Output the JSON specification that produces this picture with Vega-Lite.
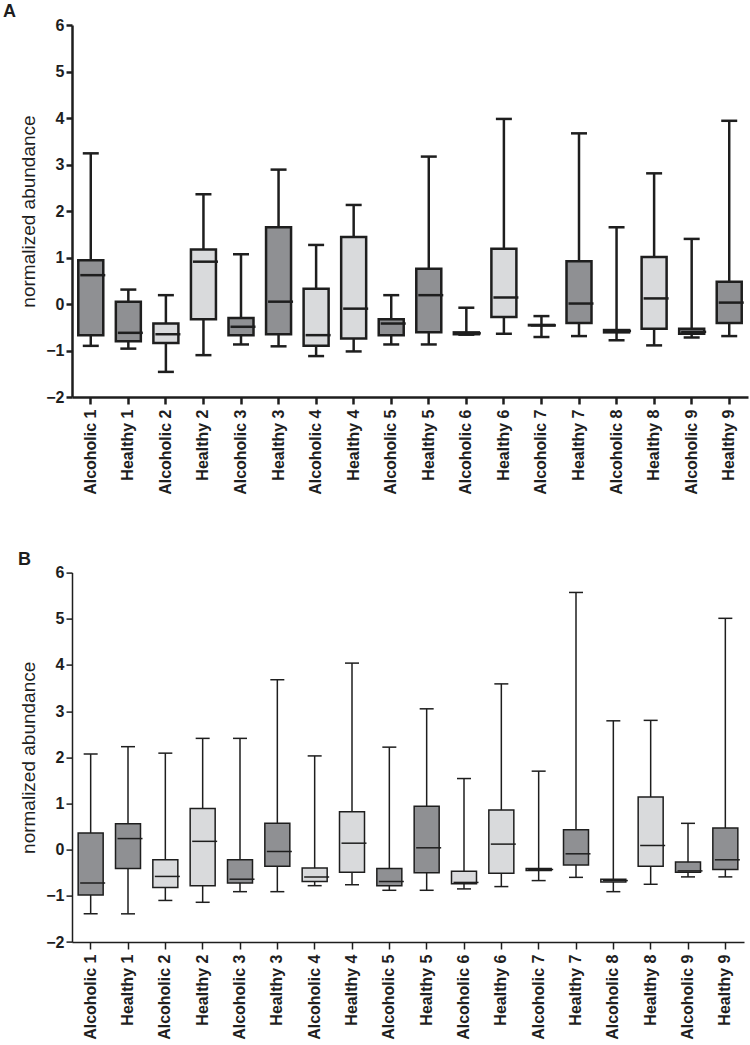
{
  "$schema": "https://vega.github.io/schema/vega-lite/v6.json",
  "padding": {"left": 3, "top": 3, "right": 2, "bottom": 0},
  "background": "white",
  "bounds": "flush",
  "spacing": 175.6,
  "config": {"view": {"stroke": null}, "font": "Liberation Sans"},
  "datasets": {
    "A": [
      {"group": "Alcoholic 1", "tone": "dark", "lo": -0.9, "q1": -0.67, "med": 0.62, "q3": 0.94, "hi": 3.24},
      {"group": "Healthy 1", "tone": "dark", "lo": -0.96, "q1": -0.8, "med": -0.62, "q3": 0.05, "hi": 0.31},
      {"group": "Alcoholic 2", "tone": "light", "lo": -1.46, "q1": -0.84, "med": -0.65, "q3": -0.42, "hi": 0.19},
      {"group": "Healthy 2", "tone": "light", "lo": -1.1, "q1": -0.33, "med": 0.91, "q3": 1.17, "hi": 2.36},
      {"group": "Alcoholic 3", "tone": "dark", "lo": -0.87, "q1": -0.67, "med": -0.49, "q3": -0.3, "hi": 1.07},
      {"group": "Healthy 3", "tone": "dark", "lo": -0.91, "q1": -0.65, "med": 0.05, "q3": 1.65, "hi": 2.89},
      {"group": "Alcoholic 4", "tone": "light", "lo": -1.12, "q1": -0.9, "med": -0.67, "q3": 0.33, "hi": 1.27},
      {"group": "Healthy 4", "tone": "light", "lo": -1.02, "q1": -0.74, "med": -0.1, "q3": 1.44, "hi": 2.13},
      {"group": "Alcoholic 5", "tone": "dark", "lo": -0.87, "q1": -0.67, "med": -0.42, "q3": -0.33, "hi": 0.19},
      {"group": "Healthy 5", "tone": "dark", "lo": -0.87, "q1": -0.61, "med": 0.19, "q3": 0.76, "hi": 3.17},
      {"group": "Alcoholic 6", "tone": "light", "lo": -0.66, "q1": -0.65, "med": -0.63, "q3": -0.61, "hi": -0.08},
      {"group": "Healthy 6", "tone": "light", "lo": -0.64, "q1": -0.28, "med": 0.14, "q3": 1.19, "hi": 3.98},
      {"group": "Alcoholic 7", "tone": "dark", "lo": -0.71, "q1": -0.46, "med": -0.46, "q3": -0.45, "hi": -0.26},
      {"group": "Healthy 7", "tone": "dark", "lo": -0.69, "q1": -0.41, "med": 0.01, "q3": 0.92, "hi": 3.67},
      {"group": "Alcoholic 8", "tone": "light", "lo": -0.78, "q1": -0.61, "med": -0.58, "q3": -0.56, "hi": 1.65},
      {"group": "Healthy 8", "tone": "light", "lo": -0.89, "q1": -0.53, "med": 0.12, "q3": 1.01, "hi": 2.81},
      {"group": "Alcoholic 9", "tone": "dark", "lo": -0.72, "q1": -0.64, "med": -0.6, "q3": -0.53, "hi": 1.4},
      {"group": "Healthy 9", "tone": "dark", "lo": -0.69, "q1": -0.41, "med": 0.03, "q3": 0.48, "hi": 3.94}
    ],
    "B": [
      {"group": "Alcoholic 1", "tone": "dark", "lo": -1.39, "q1": -0.98, "med": -0.72, "q3": 0.36, "hi": 2.07},
      {"group": "Healthy 1", "tone": "dark", "lo": -1.39, "q1": -0.41, "med": 0.24, "q3": 0.56, "hi": 2.23},
      {"group": "Alcoholic 2", "tone": "light", "lo": -1.1, "q1": -0.82, "med": -0.58, "q3": -0.22, "hi": 2.09},
      {"group": "Healthy 2", "tone": "light", "lo": -1.14, "q1": -0.78, "med": 0.18, "q3": 0.89, "hi": 2.41},
      {"group": "Alcoholic 3", "tone": "dark", "lo": -0.91, "q1": -0.72, "med": -0.64, "q3": -0.22, "hi": 2.41},
      {"group": "Healthy 3", "tone": "dark", "lo": -0.91, "q1": -0.36, "med": -0.04, "q3": 0.57, "hi": 3.68},
      {"group": "Alcoholic 4", "tone": "light", "lo": -0.78, "q1": -0.69, "med": -0.59, "q3": -0.4, "hi": 2.03},
      {"group": "Healthy 4", "tone": "light", "lo": -0.76, "q1": -0.49, "med": 0.14, "q3": 0.82, "hi": 4.04},
      {"group": "Alcoholic 5", "tone": "dark", "lo": -0.88, "q1": -0.78, "med": -0.69, "q3": -0.41, "hi": 2.22},
      {"group": "Healthy 5", "tone": "dark", "lo": -0.88, "q1": -0.5, "med": 0.04, "q3": 0.94, "hi": 3.05},
      {"group": "Alcoholic 6", "tone": "light", "lo": -0.85, "q1": -0.74, "med": -0.71, "q3": -0.47, "hi": 1.54},
      {"group": "Healthy 6", "tone": "light", "lo": -0.8, "q1": -0.51, "med": 0.12, "q3": 0.86, "hi": 3.59},
      {"group": "Alcoholic 7", "tone": "dark", "lo": -0.67, "q1": -0.45, "med": -0.43, "q3": -0.41, "hi": 1.7},
      {"group": "Healthy 7", "tone": "dark", "lo": -0.6, "q1": -0.33, "med": -0.09, "q3": 0.43, "hi": 5.57},
      {"group": "Alcoholic 8", "tone": "light", "lo": -0.91, "q1": -0.7, "med": -0.67, "q3": -0.64, "hi": 2.79},
      {"group": "Healthy 8", "tone": "light", "lo": -0.75, "q1": -0.36, "med": 0.09, "q3": 1.14, "hi": 2.8},
      {"group": "Alcoholic 9", "tone": "dark", "lo": -0.59, "q1": -0.49, "med": -0.46, "q3": -0.27, "hi": 0.57},
      {"group": "Healthy 9", "tone": "dark", "lo": -0.59, "q1": -0.43, "med": -0.22, "q3": 0.47, "hi": 5.01}
    ]
  },
  "vconcat": [
    {
      "width": 676,
      "height": 372,
      "title": {"text": "A", "anchor": "start", "frame": "group", "dx": -69, "fontSize": 18, "fontWeight": "bold", "baseline": "alphabetic", "offset": -18, "color": "#1e1e1e"},
      "data": {"name": "A"},
      "encoding": {
        "x": {
          "field": "group", "type": "nominal", "sort": null,
          "scale": {"paddingInner": 0, "paddingOuter": 0},
          "axis": {"title": null, "labelAngle": -90, "labelAlign": "right", "labelBaseline": "middle", "labelFontSize": 16, "labelFontWeight": "bold", "labelColor": "#1e1e1e", "tickSize": 7, "tickWidth": 2.5, "tickColor": "#1e1e1e", "domainColor": "#1e1e1e", "domainWidth": 2.5, "labelPadding": 5}
        }
      },
      "layer": [
        {
          "mark": {"type": "rule", "stroke": "#1e1e1e", "strokeWidth": 2.5},
          "encoding": {
            "y": {"field": "lo", "type": "quantitative", "title": "normalized abundance",
              "scale": {"domain": [-2, 6], "nice": false, "zero": false},
              "axis": {"values": [-2, -1, 0, 1, 2, 3, 4, 5, 6], "grid": false, "labelFontSize": 16, "labelFontWeight": "bold", "labelColor": "#1e1e1e", "tickSize": 6, "tickWidth": 2.5, "tickColor": "#1e1e1e", "domainColor": "#1e1e1e", "domainWidth": 2.5, "labelPadding": 2, "titleFontSize": 19, "titleFontWeight": "normal", "titleColor": "#1e1e1e", "titlePadding": 7}},
            "y2": {"field": "hi"}
          }
        },
        {
          "mark": {"type": "tick", "size": 16, "thickness": 2.5, "color": "#1e1e1e", "opacity": 1},
          "encoding": {"y": {"field": "hi", "type": "quantitative", "title": "normalized abundance"}}
        },
        {
          "mark": {"type": "tick", "size": 16, "thickness": 2.5, "color": "#1e1e1e", "opacity": 1},
          "encoding": {"y": {"field": "lo", "type": "quantitative", "title": "normalized abundance"}}
        },
        {
          "mark": {"type": "bar", "width": 25, "stroke": "#1e1e1e", "strokeWidth": 2.5},
          "encoding": {
            "y": {"field": "q1", "type": "quantitative", "title": "normalized abundance"},
            "y2": {"field": "q3"},
            "fill": {"field": "tone", "type": "nominal", "scale": {"domain": ["dark", "light"], "range": ["#8f9093", "#d9dadc"]}, "legend": null}
          }
        },
        {
          "mark": {"type": "tick", "size": 25, "thickness": 2.5, "xOffset": 2, "color": "#1e1e1e", "opacity": 1},
          "encoding": {"y": {"field": "med", "type": "quantitative", "title": "normalized abundance"}}
        }
      ]
    },
    {
      "width": 672,
      "height": 369.4,
      "title": {"text": "B", "anchor": "start", "frame": "group", "dx": -54, "fontSize": 18, "fontWeight": "bold", "baseline": "alphabetic", "offset": -18, "color": "#1e1e1e"},
      "data": {"name": "B"},
      "encoding": {
        "x": {
          "field": "group", "type": "nominal", "sort": null,
          "scale": {"paddingInner": 0, "paddingOuter": 0},
          "axis": {"title": null, "labelAngle": -90, "labelAlign": "right", "labelBaseline": "middle", "labelFontSize": 16, "labelFontWeight": "bold", "labelColor": "#1e1e1e", "tickSize": 7, "tickWidth": 1.5, "tickColor": "#1e1e1e", "domainColor": "#1e1e1e", "domainWidth": 1.5, "labelPadding": 5}
        }
      },
      "layer": [
        {
          "mark": {"type": "rule", "stroke": "#1e1e1e", "strokeWidth": 1.5},
          "encoding": {
            "y": {"field": "lo", "type": "quantitative", "title": "normalized abundance",
              "scale": {"domain": [-2, 6], "nice": false, "zero": false},
              "axis": {"values": [-2, -1, 0, 1, 2, 3, 4, 5, 6], "grid": false, "labelFontSize": 16, "labelFontWeight": "bold", "labelColor": "#1e1e1e", "tickSize": 6, "tickWidth": 1.5, "tickColor": "#1e1e1e", "domainColor": "#1e1e1e", "domainWidth": 1.5, "labelPadding": 2, "titleFontSize": 19, "titleFontWeight": "normal", "titleColor": "#1e1e1e", "titlePadding": 7}},
            "y2": {"field": "hi"}
          }
        },
        {
          "mark": {"type": "tick", "size": 14, "thickness": 1.5, "color": "#1e1e1e", "opacity": 1},
          "encoding": {"y": {"field": "hi", "type": "quantitative", "title": "normalized abundance"}}
        },
        {
          "mark": {"type": "tick", "size": 14, "thickness": 1.5, "color": "#1e1e1e", "opacity": 1},
          "encoding": {"y": {"field": "lo", "type": "quantitative", "title": "normalized abundance"}}
        },
        {
          "mark": {"type": "bar", "width": 25, "stroke": "#1e1e1e", "strokeWidth": 1.5},
          "encoding": {
            "y": {"field": "q1", "type": "quantitative", "title": "normalized abundance"},
            "y2": {"field": "q3"},
            "fill": {"field": "tone", "type": "nominal", "scale": {"domain": ["dark", "light"], "range": ["#8f9093", "#d9dadc"]}, "legend": null}
          }
        },
        {
          "mark": {"type": "tick", "size": 25, "thickness": 1.5, "xOffset": 2, "color": "#1e1e1e", "opacity": 1},
          "encoding": {"y": {"field": "med", "type": "quantitative", "title": "normalized abundance"}}
        }
      ]
    }
  ]
}
